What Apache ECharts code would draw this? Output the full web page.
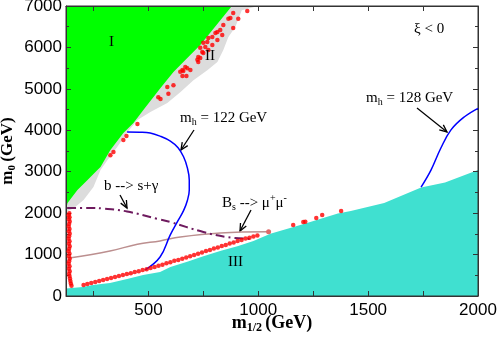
<!DOCTYPE html>
<html>
<head>
<meta charset="utf-8">
<script src="https://cdn.jsdelivr.net/npm/echarts@6/dist/echarts.min.js"></script>
<style>
html, body { margin: 0; padding: 0; background: #fff; }
#chart { width: 499px; height: 338px; }
</style>
</head>
<body>
<div id="chart"></div>
<script>
// region boundaries, [m1/2, m0] in GeV
const grayEdge = [[125, 2030], [160, 2120], [205, 2320], [250, 2630], [282, 3040], [314, 3280], [359, 3600],
  [405, 3960], [450, 4250], [509, 4440], [586, 4660], [645, 4920], [705, 5210], [768, 5450], [814, 5650],
  [841, 5940], [864, 6250], [895, 6490], [925, 6900], [1000, 7000]]
const greenEdge = [[125, 2075], [132, 2245], [177, 2560], [223, 2800], [268, 3040], [282, 3115], [327, 3525],
  [386, 3935], [432, 4175], [477, 4490], [555, 5020], [614, 5405], [677, 5745], [736, 6060], [880, 7000]]
const turqEdge = [[125, 180], [202, 217], [247, 265], [325, 314], [403, 410], [476, 507], [553, 580], [600, 700],
  [680, 830], [750, 960], [830, 1090], [905, 1200], [978, 1330], [1055, 1500], [1207, 1740], [1362, 1990],
  [1421, 2050], [1573, 2245], [1741, 2620], [1850, 2740], [2000, 3040]]

// constraint curves
const mh122 = [[403, 3960], [460, 3955], [508, 3935], [553, 3860], [600, 3740], [635, 3580], [660, 3360],
  [677, 3100], [686, 2800], [686, 2560], [677, 2300], [660, 2060], [636, 1830], [599, 1470], [553, 940], [486, 630]]
const mh128 = [[1741, 2630], [1786, 3040], [1830, 3560], [1877, 4010], [1937, 4320], [2000, 4530]]
const bsg = [[130, 2125], [234, 2125], [300, 2110], [403, 2040], [541, 1860], [599, 1786], [750, 1545],
  [860, 1420], [975, 1375]]
const bsmumu = [[140, 917], [325, 1086], [450, 1250], [553, 1330], [645, 1424], [827, 1520], [1047, 1550]]

// red points
const redTop = [[950, 6880], [886, 6830], [873, 6710], [864, 6690], [909, 6690], [841, 6540], [886, 6470],
  [827, 6420], [814, 6370], [805, 6350], [836, 6300], [791, 6250], [773, 6230], [814, 6180], [768, 6130],
  [750, 6110], [791, 6060], [759, 6010], [736, 5990], [773, 5940], [745, 5890], [750, 5865], [727, 5770],
  [736, 5745], [723, 5700], [727, 5650], [691, 5455], [668, 5530], [677, 5500], [659, 5430], [655, 5455],
  [645, 5410], [655, 5310], [673, 5310], [614, 5090], [586, 5045], [591, 4880], [545, 4800], [555, 4755],
  [450, 4150], [400, 3860], [386, 3765], [341, 3475], [327, 3400]]
const redLeft = [[140, 2000], [137, 1950], [141, 1900], [138, 1850], [142, 1800], [139, 1740], [137, 1680],
  [141, 1620], [138, 1560], [142, 1500], [139, 1440], [137, 1380], [141, 1320], [138, 1260], [142, 1200],
  [139, 1140], [137, 1080], [141, 1020], [138, 960], [142, 900], [139, 840], [137, 780], [141, 720],
  [138, 660], [142, 600], [139, 540], [141, 480], [143, 420], [145, 360], [147, 300], [150, 250]]
const redLow = [[205, 265], [222, 292], [240, 312], [258, 338], [276, 360], [294, 388], [312, 410],
  [330, 437], [348, 458], [366, 485], [384, 505], [402, 532], [420, 550], [438, 578], [456, 600],
  [474, 628], [492, 648], [510, 678], [528, 700], [546, 728], [564, 752], [582, 788], [600, 812],
  [618, 848], [636, 868], [654, 902], [672, 928], [690, 962], [708, 988], [726, 1022], [744, 1048],
  [762, 1088], [780, 1112], [798, 1148], [816, 1172], [834, 1208], [852, 1232], [870, 1268], [888, 1292],
  [906, 1328], [924, 1352], [942, 1388], [960, 1408], [978, 1438], [996, 1458],
  [1159, 1715], [1205, 1785], [1214, 1790], [1264, 1885], [1291, 1955], [1377, 2050]]

const xLabels = [500, 1000, 1500, 2000]
const xTicks = [250, 500, 750, 1000, 1250, 1500, 1750, 2000]

const serif = '"Liberation Serif", "DejaVu Serif", serif'
const sans = '"Liberation Sans", Arial, sans-serif'

function arrow(x1, y1, x2, y2) {
  const a = Math.atan2(y2 - y1, x2 - x1)
  const h = 8
  const w = 0.42
  return {
    type: 'group',
    silent: true,
    z: 100,
    children: [
      { type: 'line', shape: { x1, y1, x2, y2 }, style: { stroke: '#000', lineWidth: 1.3 } },
      {
        type: 'polyline',
        shape: {
          points: [
            [x2 - h * Math.cos(a - w), y2 - h * Math.sin(a - w)],
            [x2, y2],
            [x2 - h * Math.cos(a + w), y2 - h * Math.sin(a + w)],
          ],
        },
        style: { stroke: '#000', lineWidth: 1.3, fill: null },
      },
    ],
  }
}

function label(x, y, text, rich) {
  return {
    type: 'text',
    x,
    y,
    z: 100,
    silent: true,
    style: {
      text,
      font: '15px ' + serif,
      fill: '#000',
      align: 'left',
      verticalAlign: 'middle',
      rich,
    },
  }
}

const txtRich = {
  n: { fontSize: 15, fontFamily: serif, color: '#000' },
  sub: { fontSize: 10, fontFamily: serif, color: '#000', padding: [9, 0, 0, 0] },
  sup: { fontSize: 10, fontFamily: serif, color: '#000', padding: [0, 0, 9, 0] },
}

const axisLine = () => ({ show: true, onZero: false, lineStyle: { color: '#333', width: 1 } })
const tickStyle = { color: '#333' }
const plain = v => String(v)
const blank = () => ''

const chart = echarts.init(document.getElementById('chart'))
chart.setOption({
  animation: false,
  // grid border doubles as the plot frame; region fills sit below it (z -1)
  grid: {
    left: 66, right: 21, top: 6, bottom: 42,
    containLabel: false, outerBoundsMode: 'none',
    show: true, borderColor: '#333', borderWidth: 1, backgroundColor: 'transparent',
  },
  xAxis: [
    {
      type: 'value',
      min: 125,
      max: 2000,
      position: 'bottom',
      axisLine: axisLine(),
      axisTick: { inside: true, length: 5, customValues: xTicks, lineStyle: tickStyle },
      axisLabel: { customValues: xLabels, formatter: plain, fontSize: 17, fontFamily: sans, color: '#000', margin: 6 },
      splitLine: { show: false },
      name: '{b|m}{s|1/2} {b|(GeV)}',
      nameLocation: 'middle',
      nameGap: 16,
      nameMoveOverlap: false,
      nameTextStyle: {
        rich: {
          b: { fontSize: 18, fontWeight: 'bold', fontFamily: serif, color: '#000' },
          s: { fontSize: 12, fontWeight: 'bold', fontFamily: serif, color: '#000', padding: [10, 0, 0, 0] },
        },
      },
    },
    {
      type: 'value',
      min: 125,
      max: 2000,
      position: 'top',
      axisLine: axisLine(),
      axisTick: { inside: true, length: 5, customValues: xTicks, lineStyle: tickStyle },
      axisLabel: { formatter: blank },
      splitLine: { show: false },
    },
  ],
  yAxis: [
    {
      type: 'value',
      min: 0,
      max: 7000,
      interval: 1000,
      position: 'left',
      axisLine: axisLine(),
      axisTick: { inside: true, length: 5, lineStyle: tickStyle },
      minorTick: { show: true, splitNumber: 2, length: 3, lineStyle: tickStyle },
      axisLabel: { formatter: plain, fontSize: 17, fontFamily: sans, color: '#000', margin: 4 },
      splitLine: { show: false },
      name: '{b|m}{s|0} {b|(GeV)}',
      nameLocation: 'middle',
      nameGap: 48,
      nameMoveOverlap: false,
      nameTextStyle: {
        rich: {
          b: { fontSize: 17, fontWeight: 'bold', fontFamily: serif, color: '#000' },
          s: { fontSize: 11, fontWeight: 'bold', fontFamily: serif, color: '#000', padding: [10, 0, 0, 0] },
        },
      },
    },
    {
      type: 'value',
      min: 0,
      max: 7000,
      interval: 1000,
      position: 'right',
      axisLine: axisLine(),
      axisTick: { inside: true, length: 5, lineStyle: tickStyle },
      minorTick: { show: true, splitNumber: 2, length: 3, lineStyle: tickStyle },
      axisLabel: { formatter: blank },
      splitLine: { show: false },
    },
  ],
  series: [
    {
      name: 'II', type: 'line', data: grayEdge, symbol: 'none', z: -1,
      lineStyle: { width: 0, opacity: 0 },
      areaStyle: { color: '#dcdcdc', opacity: 1, origin: 'end' },
    },
    {
      name: 'I', type: 'line', data: greenEdge, symbol: 'none', z: -1,
      lineStyle: { width: 0, opacity: 0 },
      areaStyle: { color: '#00ff00', opacity: 1, origin: 'end' },
    },
    {
      name: 'III', type: 'line', data: turqEdge, symbol: 'none', z: -1,
      lineStyle: { width: 0, opacity: 0 },
      areaStyle: { color: '#40e0d0', opacity: 1, origin: 'start' },
    },
    {
      name: 'Bs', type: 'line', smooth: 0.4, z: 3, showSymbol: true, symbol: 'none',
      data: bsmumu.map((p, i) => (i === bsmumu.length - 1
        ? { value: p, symbol: 'circle', symbolSize: 5, itemStyle: { color: '#e06a6a' } }
        : p)),
      lineStyle: { color: '#bc8f8f', width: 1.5 },
    },
    {
      name: 'bsg', type: 'line', data: bsg, smooth: 0.4, symbol: 'none', z: 3,
      lineStyle: { color: '#6e1a5e', width: 2, type: [9, 4, 2, 4] },
    },
    {
      name: 'mh122', type: 'line', data: mh122, smooth: 0.4, symbol: 'none', z: 3,
      lineStyle: { color: '#0000ff', width: 1.5 },
    },
    {
      name: 'mh128', type: 'line', data: mh128, smooth: 0.4, symbol: 'none', z: 3,
      xAxisIndex: 1, yAxisIndex: 1,
      lineStyle: { color: '#0000ff', width: 1.5 },
    },
    {
      name: 'points', type: 'scatter', z: 4, symbolSize: 4.5,
      data: redTop.concat(redLeft, redLow),
      itemStyle: { color: '#ff0000' },
    },
  ],
  graphic: [
    label(109, 42, 'I'),
    label(205, 56, 'II'),
    label(228, 262, 'III'),
    label(414, 29, 'ξ < 0'),
    label(180, 118, '{n|m}{sub|h}{n| = 122 GeV}', txtRich),
    label(366, 98, '{n|m}{sub|h}{n| = 128 GeV}', txtRich),
    label(104, 186, 'b --> s+γ'),
    label(222, 203, '{n|B}{sub|s}{n| --> μ}{sup|+}{n|μ}{sup|-}', txtRich),
    arrow(194, 130, 181, 150),
    arrow(417, 108, 447, 132),
    arrow(120, 195, 127, 208),
    arrow(251, 210, 240, 231),
  ],
})
</script>
</body>
</html>
